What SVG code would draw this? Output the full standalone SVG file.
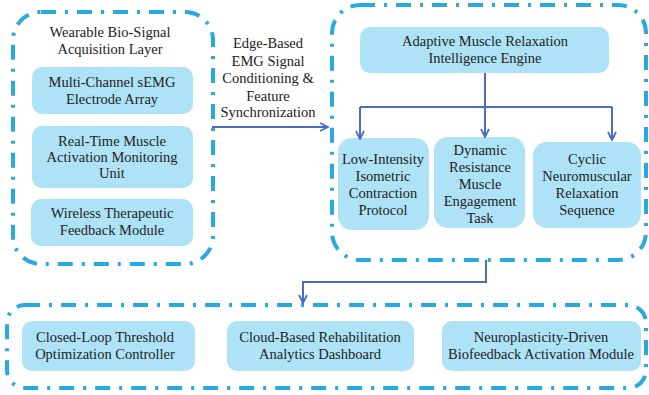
<svg xmlns="http://www.w3.org/2000/svg" width="649" height="395" viewBox="0 0 649 395">
<defs>
<style>
.cont{fill:none;stroke:#27aae1;stroke-width:4;stroke-dasharray:15 9 3 9}
.box{fill:#aee2f6;stroke:none}
.t{font-family:"Liberation Serif","Times New Roman",serif;font-size:14.5px;fill:#222;text-anchor:middle}
.ln{fill:none;stroke:#4a6cc2;stroke-width:2}
</style>
<marker id="ah" viewBox="0 0 10 10" refX="9" refY="5" markerWidth="10" markerHeight="10" markerUnits="userSpaceOnUse" orient="auto">
<path d="M1,1 L9,5 L1,9" fill="none" stroke="#4a6cc2" stroke-width="1.8"/>
</marker>
</defs>
<rect width="649" height="395" fill="#fff"/>

<g id="acquisition-layer">
<rect class="cont" x="13" y="12" width="200" height="252" rx="28"/>
<text class="t" x="110" y="37">Wearable Bio-Signal</text>
<text class="t" x="110" y="54">Acquisition Layer</text>
</g>
<g id="semg-array">
<rect class="box" x="32" y="67" width="161" height="47" rx="10"/>
<text class="t" x="112" y="87">Multi-Channel sEMG</text>
<text class="t" x="112" y="104">Electrode Array</text>
</g>
<g id="monitoring-unit">
<rect class="box" x="32" y="126" width="161" height="62" rx="10"/>
<text class="t" x="112" y="146">Real-Time Muscle</text>
<text class="t" x="112" y="162">Activation Monitoring</text>
<text class="t" x="112" y="178">Unit</text>
</g>
<g id="feedback-module">
<rect class="box" x="31" y="199" width="162" height="47" rx="10"/>
<text class="t" x="112" y="218">Wireless Therapeutic</text>
<text class="t" x="112" y="235">Feedback Module</text>
</g>

<g id="edge-label">
<text class="t" x="268" y="48">Edge-Based</text>
<text class="t" x="268" y="66">EMG Signal</text>
<text class="t" x="268" y="83">Conditioning &amp;</text>
<text class="t" x="268" y="101">Feature</text>
<text class="t" x="268" y="117">Synchronization</text>
</g>

<g id="engine-layer">
<rect class="cont" x="332" y="5" width="314" height="255" rx="28"/>
</g>
<g id="engine">
<rect class="box" x="360" y="27" width="249" height="46" rx="10"/>
<text class="t" x="485" y="46">Adaptive Muscle Relaxation</text>
<text class="t" x="485" y="63">Intelligence Engine</text>
</g>
<g id="isometric">
<rect class="box" x="338" y="138" width="91" height="92" rx="14"/>
<text class="t" x="383" y="164">Low-Intensity</text>
<text class="t" x="383" y="181">Isometric</text>
<text class="t" x="383" y="198">Contraction</text>
<text class="t" x="383" y="215">Protocol</text>
</g>
<g id="dynamic">
<rect class="box" x="434" y="137" width="91" height="91" rx="14"/>
<text class="t" x="480" y="155">Dynamic</text>
<text class="t" x="480" y="172">Resistance</text>
<text class="t" x="480" y="189">Muscle</text>
<text class="t" x="480" y="206">Engagement</text>
<text class="t" x="480" y="223">Task</text>
</g>
<g id="cyclic">
<rect class="box" x="533" y="142" width="108" height="86" rx="14"/>
<text class="t" x="587" y="164">Cyclic</text>
<text class="t" x="587" y="181">Neuromuscular</text>
<text class="t" x="587" y="198">Relaxation</text>
<text class="t" x="587" y="215">Sequence</text>
</g>

<g id="output-layer">
<rect class="cont" x="7" y="305" width="639" height="83" rx="18"/>
</g>
<g id="threshold">
<rect class="box" x="22" y="321" width="173" height="50" rx="10"/>
<text class="t" x="105" y="342">Closed-Loop Threshold</text>
<text class="t" x="105" y="359">Optimization Controller</text>
</g>
<g id="dashboard">
<rect class="box" x="227" y="321" width="187" height="50" rx="10"/>
<text class="t" x="320" y="342">Cloud-Based Rehabilitation</text>
<text class="t" x="320" y="359">Analytics Dashboard</text>
</g>
<g id="neuroplasticity">
<rect class="box" x="442" y="321" width="199" height="50" rx="10"/>
<text class="t" x="541" y="342">Neuroplasticity-Driven</text>
<text class="t" x="541" y="359">Biofeedback Activation Module</text>
</g>

<g id="connectors">
<path class="ln" d="M212,127 H328" marker-end="url(#ah)"/>
<path class="ln" d="M485,73 V137" marker-end="url(#ah)"/>
<path class="ln" d="M360,107 H612"/>
<path class="ln" d="M360,107 V139" marker-end="url(#ah)"/>
<path class="ln" d="M612,107 V140" marker-end="url(#ah)"/>
<path class="ln" d="M486,260 V282 H303 V303" marker-end="url(#ah)"/>
</g>
</svg>
